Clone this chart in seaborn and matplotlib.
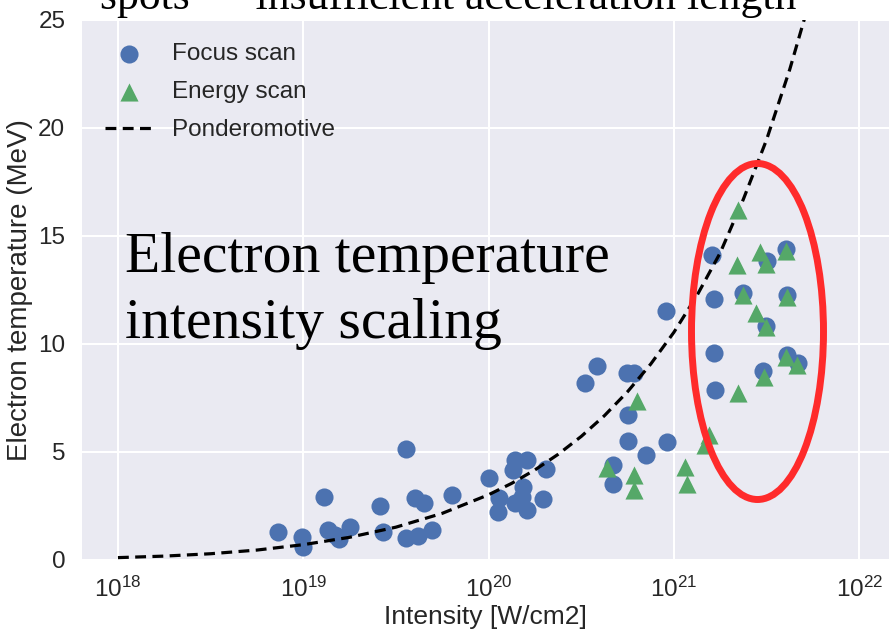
import numpy as np
import pandas as pd
import matplotlib
matplotlib.use("Agg")
import matplotlib.pyplot as plt
from matplotlib.patches import Ellipse
import seaborn as sns

# ---------------- data ----------------
# log10 of intensity [W/cm2] and electron temperature [MeV]
focus_log_intensity = [18.865, 18.991, 19.000, 19.113, 19.135, 19.171, 19.194, 19.252,
                       19.414, 19.432, 19.553, 19.553, 19.603, 19.621, 19.651, 19.693,
                       19.801, 20.004, 20.058, 20.052, 20.142, 20.133, 20.205, 20.187,
                       20.142, 20.205, 20.179, 20.310, 20.292, 20.520, 20.587, 20.745,
                       20.785, 20.754, 20.750, 20.849, 20.964, 20.957, 20.673, 20.670,
                       21.204, 21.504, 21.603, 21.216, 21.374, 21.608, 21.497, 21.216,
                       21.608, 21.671, 21.483, 21.222]
focus_temperature = [1.31, 1.08, 0.62, 2.93, 1.39, 1.16, 0.96, 1.51,
                     2.50, 1.31, 5.14, 1.00, 2.86, 1.11, 2.62, 1.39,
                     3.01, 3.81, 2.86, 2.24, 4.63, 4.17, 4.63, 3.39,
                     2.62, 2.31, 2.93, 4.20, 2.81, 8.21, 8.98, 8.67,
                     8.67, 6.71, 5.51, 4.86, 5.48, 11.54, 4.40, 3.52,
                     14.12, 13.86, 14.38, 12.07, 12.35, 12.27, 10.83, 9.60,
                     9.49, 9.14, 8.75, 7.87]

energy_log_intensity = [20.637, 20.803, 20.785, 20.785, 21.060, 21.069, 21.191, 21.168,
                        21.344, 21.339, 21.464, 21.497, 21.603, 21.374, 21.608, 21.443,
                        21.497, 21.605, 21.666, 21.486, 21.344]
energy_temperature = [4.25, 7.38, 3.94, 3.24, 4.32, 3.52, 5.79, 5.32,
                      16.20, 13.66, 14.27, 13.70, 14.32, 12.27, 12.19, 11.42,
                      10.77, 9.38, 9.03, 8.49, 7.75]

pond_log_intensity = [18.0, 18.25, 18.5, 18.75, 19.0, 19.25, 19.5, 19.75, 20.0, 20.125,
                      20.25, 20.375, 20.5, 20.625, 20.75, 20.875, 21.0, 21.125, 21.25,
                      21.375, 21.5, 21.625, 21.75]
pond_temperature = [0.11, 0.18, 0.29, 0.46, 0.71, 1.05, 1.52, 2.16, 3.02, 3.55,
                    4.17, 4.89, 5.72, 6.68, 7.79, 9.07, 10.54, 12.25, 14.22,
                    16.70, 19.45, 22.70, 26.40]

x_ticks = [1e18, 1e19, 1e20, 1e21, 1e22]
y_ticks = [0, 5, 10, 15, 20, 25]

focus = pd.DataFrame({"I": np.power(10.0, focus_log_intensity), "T": focus_temperature})
energy = pd.DataFrame({"I": np.power(10.0, energy_log_intensity), "T": energy_temperature})
pond = pd.DataFrame({"I": np.power(10.0, pond_log_intensity), "T": pond_temperature})

# ---------------- figure ----------------
sns.set_theme(style="darkgrid")
plt.rcParams["font.family"] = ["Liberation Sans", "DejaVu Sans"]
plt.rcParams["axes.unicode_minus"] = False

W, H = 889, 634
fig = plt.figure(figsize=(W / 100, H / 100), dpi=100)
ax_l, ax_r, ax_t, ax_b = 82, 889, 20, 560
ax = fig.add_axes([ax_l / W, 1 - ax_b / H, (ax_r - ax_l) / W, (ax_b - ax_t) / H])
ax.set_facecolor("#EAEAF2")

sns.lineplot(data=pond, x="I", y="T", ax=ax, color="black", lw=2.3,
             label="Ponderomotive", zorder=4)
ax.lines[-1].set_dashes((3.4, 2.0))
sns.scatterplot(data=focus, x="I", y="T", ax=ax, color="#4C72B0", marker="o",
                s=170, linewidth=0, label="Focus scan", zorder=3)
sns.scatterplot(data=energy, x="I", y="T", ax=ax, color="#55A868", marker="^",
                s=170, linewidth=0, label="Energy scan", zorder=5)

ax.set_xscale("log")
ax.set_xlim(10 ** 17.806, 10 ** 22.161)
ax.set_ylim(0, 25)
ax.set_xticks(x_ticks)
ax.set_yticks(y_ticks)
ax.xaxis.set_minor_locator(matplotlib.ticker.NullLocator())
ax.grid(True, color="white", lw=1.5)
ax.tick_params(axis="both", labelsize=17.5, colors="#262626", pad=6)
ax.set_xlabel("Intensity [W/cm2]", fontsize=19, color="#262626", labelpad=2)
ax.set_ylabel("Electron temperature (MeV)", fontsize=20, color="#262626", labelpad=3.5)
for s in ax.spines.values():
    s.set_visible(False)

h, l = ax.get_legend_handles_labels()
order = [l.index("Focus scan"), l.index("Energy scan"), l.index("Ponderomotive")]
leg = ax.legend([h[i] for i in order], [l[i] for i in order], loc="upper left",
                bbox_to_anchor=(0.0, 1.0), frameon=False, fontsize=17.5,
                handlelength=2.0, handletextpad=0.75, labelspacing=0.66,
                borderaxespad=0.55, markerscale=1.0)
for t in leg.get_texts():
    t.set_color("#262626")

# overlaid slide annotations
fig.text(125 / W, 1 - 272 / H, "Electron temperature", family="Liberation Serif",
         fontsize=41.5, va="baseline", ha="left", color="black")
fig.text(125 / W, 1 - 338 / H, "intensity scaling", family="Liberation Serif",
         fontsize=41.5, va="baseline", ha="left", color="black")
fig.text(100 / W, 1 - 9 / H, "spots \u2014 insufficient acceleration length",
         family="Liberation Serif", fontsize=31.5, va="baseline", ha="left", color="black")
fig.patches.append(Ellipse((757.5 / W, 1 - 331.5 / H), 132 / W, 336 / H,
                           transform=fig.transFigure, fill=False,
                           edgecolor="#FF2B2B", lw=5, zorder=10))

fig.savefig("out.png", dpi=100)
